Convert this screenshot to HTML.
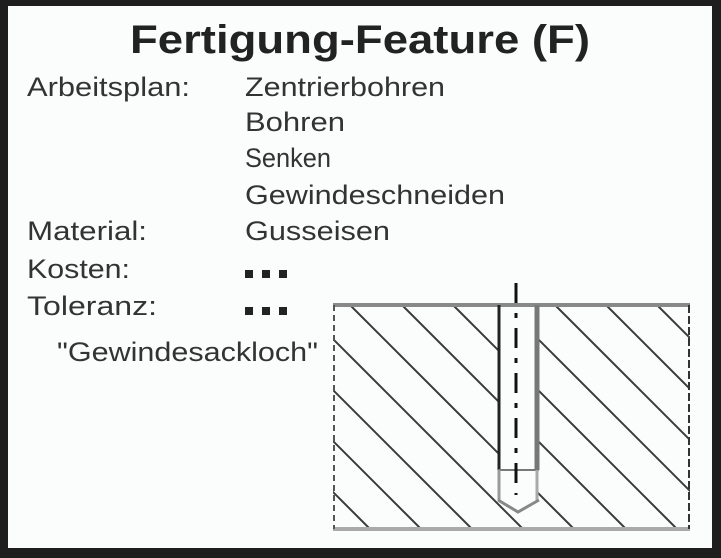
<!DOCTYPE html>
<html><head><meta charset="utf-8"><style>
html,body{margin:0;padding:0;background:#1e1e1e;}
svg{display:block;}
text{font-family:"Liberation Sans",Arial,sans-serif;fill:#333;}
</style></head><body>
<svg width="721" height="558" viewBox="0 0 721 558">
<rect x="0" y="0" width="721" height="558" fill="#1e1e1e"/>
<rect x="8" y="6" width="704" height="542" fill="#fbfdfd"/>
<text x="130" y="53" font-size="40" font-weight="bold" textLength="460" lengthAdjust="spacingAndGlyphs" style="fill:#222">Fertigung-Feature (F)</text>
<g font-size="27">
<text x="27" y="96" textLength="163" lengthAdjust="spacingAndGlyphs">Arbeitsplan:</text>
<text x="245" y="96" textLength="200" lengthAdjust="spacingAndGlyphs">Zentrierbohren</text>
<text x="245" y="131" textLength="100" lengthAdjust="spacingAndGlyphs">Bohren</text>
<text x="245" y="167" textLength="86" lengthAdjust="spacingAndGlyphs">Senken</text>
<text x="245" y="204" textLength="260" lengthAdjust="spacingAndGlyphs">Gewindeschneiden</text>
<text x="27" y="240" textLength="120" lengthAdjust="spacingAndGlyphs">Material:</text>
<text x="245" y="240" textLength="145" lengthAdjust="spacingAndGlyphs">Gusseisen</text>
<text x="27" y="278" textLength="103" lengthAdjust="spacingAndGlyphs">Kosten:</text>
<text x="27" y="315" textLength="130" lengthAdjust="spacingAndGlyphs">Toleranz:</text>
<text x="57" y="361" textLength="261" lengthAdjust="spacingAndGlyphs">"Gewindesackloch"</text>
</g>
<g fill="#222">
<rect x="245" y="270" width="8" height="8"/><rect x="262" y="270" width="8" height="8"/><rect x="279" y="270" width="8" height="8"/>
</g>
<g fill="#222">
<rect x="245" y="307" width="8" height="8"/><rect x="262" y="307" width="8" height="8"/><rect x="279" y="307" width="8" height="8"/>
</g>
<defs>
<clipPath id="mat">
<path d="M333,305 H498 V500 L518,512 L538,500 V305 H690 V529 H333 Z"/>
</clipPath>
</defs>
<g clip-path="url(#mat)" stroke="#3a3a3a" stroke-width="2">
<line x1="44" y1="305" x2="268" y2="529"/>
<line x1="95" y1="305" x2="319" y2="529"/>
<line x1="146" y1="305" x2="370" y2="529"/>
<line x1="197" y1="305" x2="421" y2="529"/>
<line x1="248" y1="305" x2="472" y2="529"/>
<line x1="299" y1="305" x2="523" y2="529"/>
<line x1="350" y1="305" x2="574" y2="529"/>
<line x1="402" y1="305" x2="626" y2="529"/>
<line x1="453" y1="305" x2="677" y2="529"/>
<line x1="504" y1="305" x2="728" y2="529"/>
<line x1="555" y1="305" x2="779" y2="529"/>
<line x1="606" y1="305" x2="830" y2="529"/>
<line x1="657" y1="305" x2="881" y2="529"/>
</g>
<line x1="333" y1="305" x2="690" y2="305" stroke="#888" stroke-width="4"/>
<line x1="333" y1="529" x2="690" y2="529" stroke="#aaa" stroke-width="4"/>
<line x1="334" y1="305" x2="334" y2="529" stroke="#555" stroke-width="2" stroke-dasharray="6 4"/>
<line x1="689" y1="305" x2="689" y2="529" stroke="#333" stroke-width="2" stroke-dasharray="8 3"/>
<g>
<line x1="499" y1="305" x2="499" y2="470" stroke="#222" stroke-width="3"/>
<line x1="537" y1="305" x2="537" y2="470" stroke="#777" stroke-width="5"/>
<line x1="498" y1="470" x2="539" y2="470" stroke="#777" stroke-width="2"/>
<line x1="499" y1="470" x2="499" y2="500" stroke="#999" stroke-width="3"/>
<line x1="537" y1="470" x2="537" y2="500" stroke="#aaa" stroke-width="3"/>
<polyline points="498,500 518,512 539,500" fill="none" stroke="#888" stroke-width="3"/>
</g>
<line x1="516" y1="283" x2="516" y2="495" stroke="#111" stroke-width="3" stroke-dasharray="20 10 5 10"/>
</svg>
</body></html>
